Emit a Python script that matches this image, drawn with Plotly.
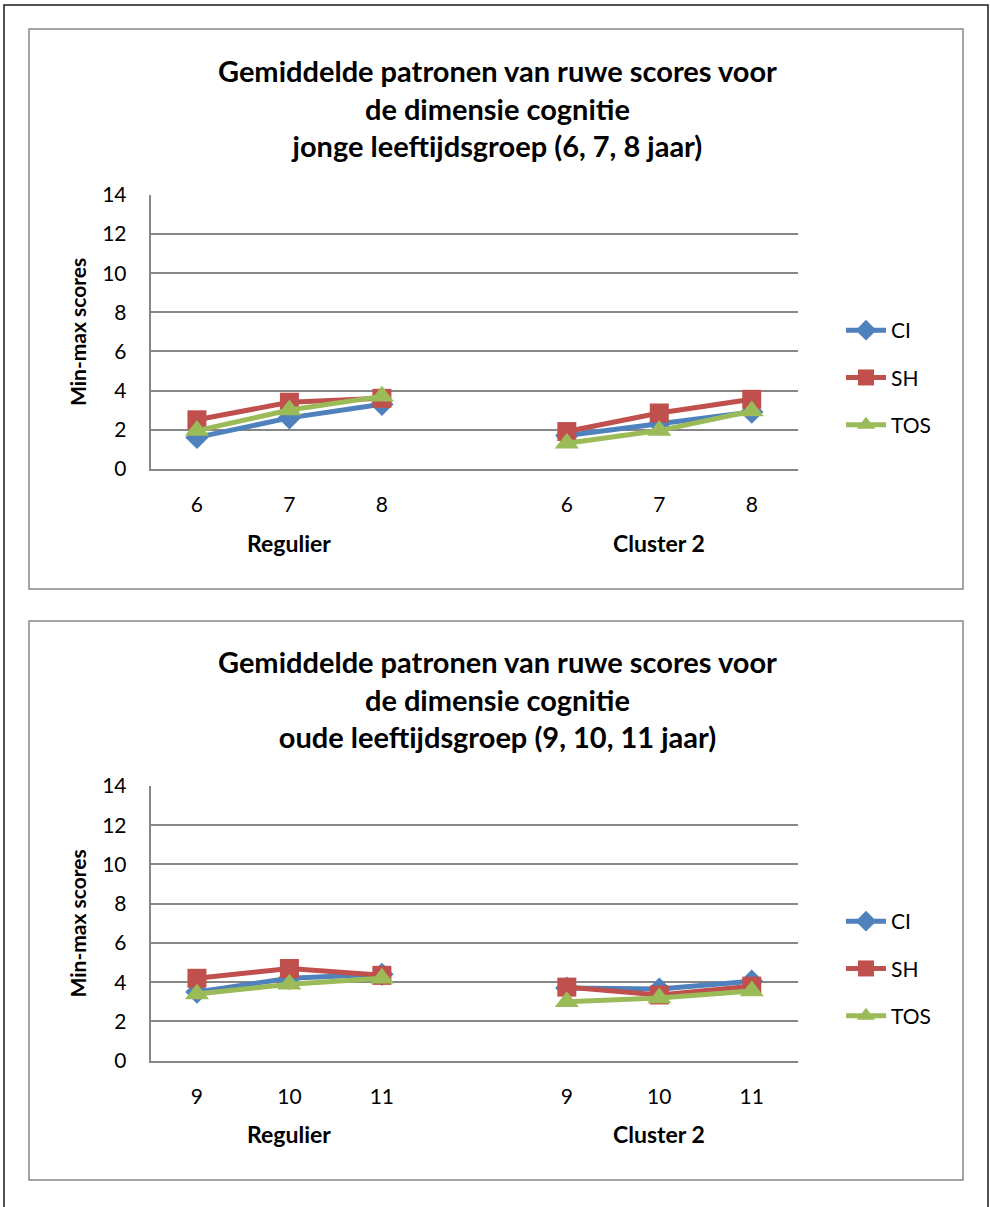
import plotly.graph_objects as go

# ---------------- data ----------------
groups = ["Regulier", "Cluster 2"]
ages_young = ["6", "7", "8"]
ages_old = ["9", "10", "11"]
series = ["CI", "SH", "TOS"]

# young age group (6, 7, 8) : Regulier then Cluster 2
young_CI = [1.6, 2.6, 3.3, 1.7, 2.3, 2.9]
young_SH = [2.5, 3.4, 3.6, 1.9, 2.85, 3.55]
young_TOS = [1.95, 3.0, 3.7, 1.3, 1.95, 2.95]

# old age group (9, 10, 11) : Regulier then Cluster 2
old_CI = [3.5, 4.2, 4.4, 3.7, 3.65, 4.05]
old_SH = [4.2, 4.7, 4.35, 3.75, 3.35, 3.8]
old_TOS = [3.4, 3.9, 4.2, 3.0, 3.2, 3.55]

title_young = ["Gemiddelde patronen van ruwe scores voor", "de dimensie cognitie",
               "jonge leeftijdsgroep (6, 7, 8 jaar)"]
title_old = ["Gemiddelde patronen van ruwe scores voor", "de dimensie cognitie",
             "oude leeftijdsgroep (9, 10, 11 jaar)"]
y_title = "Min-max scores"

# ---------------- styling ----------------
W, H = 990, 1207
FONT = "Lato"
colors = {"CI": "#4F81BD", "SH": "#C0504D", "TOS": "#9BBB59"}
symbols = {"CI": "diamond", "SH": "square", "TOS": "triangle-up"}
msize = {"CI": 18, "SH": 19, "TOS": 21}
GRID = "#868686"


def px(x):
    return x / W


def py(y):
    return 1 - y / H


def positions(n_groups, n_per):
    # category slot index; one empty slot between groups
    xs = []
    for g in range(n_groups):
        for i in range(n_per):
            xs.append(g * (n_per + 1) + i)
    return xs


def with_gap(vals, n_per):
    out = []
    for g in range(len(vals) // n_per):
        out += vals[g * n_per:(g + 1) * n_per]
        if g < len(vals) // n_per - 1:
            out.append(None)
    return out


fig = go.Figure()

panels = [
    dict(ages=ages_young, data={"CI": young_CI, "SH": young_SH, "TOS": young_TOS},
         xa="x", ya="y", legend="legend", title=title_young),
    dict(ages=ages_old, data={"CI": old_CI, "SH": old_SH, "TOS": old_TOS},
         xa="x2", ya="y2", legend="legend2", title=title_old),
]

for k, p in enumerate(panels):
    n = len(p["ages"])
    xs_full = list(range(len(groups) * (n + 1) - 1))
    for s in series:
        fig.add_trace(go.Scatter(
            x=xs_full, y=with_gap(p["data"][s], n), name=s,
            mode="lines+markers", xaxis=p["xa"], yaxis=p["ya"],
            line=dict(color=colors[s], width=5),
            marker=dict(symbol=symbols[s], size=msize[s], color=colors[s]),
            legend=p["legend"], legendgroup=f"{s}{k}",
            connectgaps=False, cliponaxis=False,
        ))

xdom = [px(150.7), px(798)]
ydoms = [[py(468.7), py(195)], [py(1060.7), py(786)]]

layout = dict(
    width=W, height=H, margin=dict(l=0, r=0, t=0, b=0, pad=0, autoexpand=False),
    paper_bgcolor="white", plot_bgcolor="white",
    font=dict(family=FONT, color="#000000"),
    showlegend=True,
)

for k, p in enumerate(panels):
    n = len(p["ages"])
    tickvals = positions(len(groups), n)
    ticktext = p["ages"] * len(groups)
    xname = "xaxis" if k == 0 else "xaxis2"
    yname = "yaxis" if k == 0 else "yaxis2"
    layout[xname] = dict(
        domain=xdom, anchor=p["ya"], range=[-0.5, len(groups) * (n + 1) - 1 - 0.5],
        tickvals=tickvals, ticktext=ticktext, showgrid=False, zeroline=False,
        showline=True, linecolor=GRID, linewidth=2, ticks="", automargin=False,
        ticklabelstandoff=16, tickfont=dict(size=21, family=FONT),
    )
    layout[yname] = dict(
        domain=ydoms[k], anchor=p["xa"], range=[0, 14], dtick=2,
        showgrid=True, gridcolor=GRID, gridwidth=2, zeroline=False,
        showline=True, linecolor=GRID, linewidth=2, ticks="", automargin=False,
        ticklabelstandoff=18, tickfont=dict(size=21, family=FONT),
        title=dict(text=f"<b>{y_title}</b>", font=dict(size=21, family=FONT), standoff=10),
    )
    legname = "legend" if k == 0 else "legend2"
    layout[legname] = dict(
        x=px(841), xanchor="left", y=py(310 if k == 0 else 901), yanchor="top",
        font=dict(size=21, family=FONT), bgcolor="rgba(0,0,0,0)",
        tracegroupgap=17, itemwidth=40, traceorder="grouped",
    )

fig.update_layout(**layout)

annotations = []
title_mid = [108, 699]
for k, p in enumerate(panels):
    annotations.append(dict(
        text="<b>" + "<br>".join(p["title"]) + "</b>", xref="paper", yref="paper",
        x=px(497), y=py(title_mid[k]), xanchor="center", yanchor="middle",
        showarrow=False, align="center", font=dict(size=29, family=FONT),
    ))
    n = len(p["ages"])
    xa = "x" if k == 0 else "x2"
    for g, name in enumerate(groups):
        annotations.append(dict(
            text=f"<b>{name}</b>", xref=xa, yref="paper",
            x=g * (n + 1) + (n - 1) / 2, y=py(543 if k == 0 else 1134),
            xanchor="center", yanchor="middle", showarrow=False,
            font=dict(size=23, family=FONT),
        ))
fig.update_layout(annotations=annotations)

shapes = [
    dict(type="rect", xref="paper", yref="paper", x0=px(4), x1=px(988), y0=py(5), y1=py(1230),
         line=dict(color="#1a1a1a", width=1.5)),
    dict(type="rect", xref="paper", yref="paper", x0=px(29), x1=px(963), y0=py(29), y1=py(589),
         line=dict(color=GRID, width=1.5)),
    dict(type="rect", xref="paper", yref="paper", x0=px(29), x1=px(963), y0=py(621), y1=py(1180),
         line=dict(color=GRID, width=1.5)),
]
fig.update_layout(shapes=shapes)

fig.write_html("out.html")
